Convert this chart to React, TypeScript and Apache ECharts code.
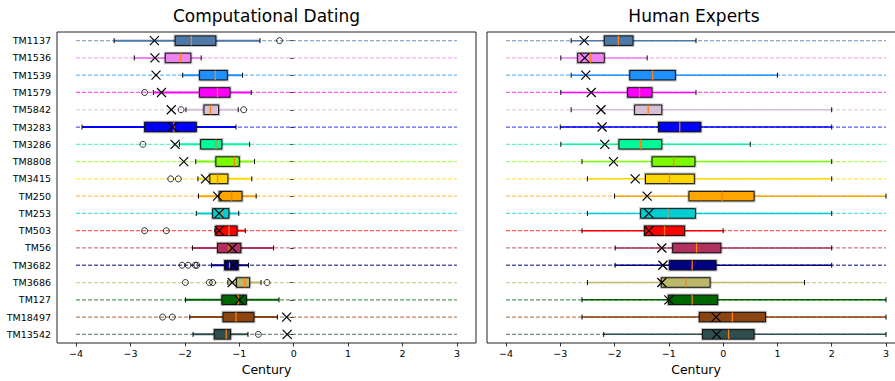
import React, { useEffect, useRef } from "react";
import * as echarts from "echarts";

const categories = ["TM1137","TM1536","TM1539","TM1579","TM5842","TM3283","TM3286","TM8808","TM3415","TM250","TM253","TM503","TM56","TM3682","TM3686","TM127","TM18497","TM13542"];

const categoryColors = ["#4e79a7","#ee82ee","#1e90ff","#ff00ff","#d8bfd8","#0000ff","#00fa9a","#7cfc00","#ffd700","#ffa500","#00ced1","#ff0000","#b03060","#000080","#bdb76b","#006400","#8b4513","#2f4f4f"];

const tickValues = [-4, -3, -2, -1, 0, 1, 2, 3];
const refLineStart = -4;
const refLineEnd = 3;

const trueDates = [-2.56,-2.55,-2.53,-2.43,-2.25,-2.23,-2.18,-2.02,-1.62,-1.40,-1.37,-1.37,-1.13,-1.11,-1.13,-1.0,-0.13,-0.12];

// Computational Dating
const compLow = [-3.30,-2.93,-2.04,-2.58,-1.98,-3.89,-2.10,-1.80,-1.76,-1.75,-1.79,-1.45,-1.86,-1.51,-1.21,-1.99,-1.91,-1.85];
const compQ1 = [-2.18,-2.36,-1.73,-1.73,-1.65,-2.74,-1.71,-1.43,-1.54,-1.37,-1.49,-1.43,-1.40,-1.27,-1.05,-1.32,-1.30,-1.46];
const compMed = [-1.88,-2.08,-1.44,-1.40,-1.53,-2.20,-1.43,-1.09,-1.40,-1.14,-1.32,-1.19,-1.19,-1.18,-0.90,-1.02,-1.06,-1.24];
const compQ3 = [-1.43,-1.89,-1.22,-1.17,-1.38,-1.79,-1.32,-1.00,-1.21,-0.95,-1.19,-1.04,-0.97,-1.02,-0.81,-0.87,-0.73,-1.16];
const compHigh = [-0.62,-1.70,-0.94,-0.78,-1.02,-1.06,-0.81,-0.72,-0.77,-0.69,-1.01,-0.89,-0.37,-0.83,-0.60,-0.27,-0.30,-0.84];
const compOutliers = [[-0.26],[],[],[-2.74],[-2.07,-0.92],[],[-2.77],[],[-2.26,-2.12],[],[],[-2.74,-2.34],[],[-2.05,-1.94,-1.81,-1.78],[-1.99,-1.55,-1.49,-0.49],[],[-2.41,-2.23],[-0.65]];

// Human Experts
const expLow = [-2.80,-2.99,-2.80,-2.99,-2.80,-3.00,-2.99,-2.60,-2.50,-2.00,-2.50,-2.60,-1.99,-1.99,-2.50,-2.60,-2.60,-2.20];
const expQ1 = [-2.19,-2.68,-1.72,-1.76,-1.63,-1.19,-1.92,-1.31,-1.43,-0.63,-1.52,-1.45,-0.93,-0.99,-1.14,-1.01,-0.44,-0.38];
const expMed = [-1.93,-2.44,-1.30,-1.54,-1.38,-0.80,-1.52,-0.91,-0.99,-0.02,-1.02,-1.08,-0.49,-0.57,-0.69,-0.57,0.17,0.10];
const expQ3 = [-1.66,-2.19,-0.88,-1.31,-1.13,-0.41,-1.13,-0.52,-0.53,0.57,-0.51,-0.71,-0.04,-0.13,-0.24,-0.10,0.78,0.57];
const expHigh = [-0.50,-1.40,1.0,-0.50,2.0,2.0,0.50,2.0,2.0,3.0,2.0,0.0,2.0,2.0,1.5,3.0,3.0,3.0];

const FONT = "DejaVu Sans";

function buildPanelSeries(p: number, low: number[], q1: number[], med: number[], q3: number[], high: number[], outliers: number[][] | null, whiskerW: number) {
  const series: any[] = [];
  series.push({
    type: "custom",
    xAxisIndex: p,
    yAxisIndex: p,
    z: 1,
    encode: { y: 0, x: [1, 2] },
    data: categories.map((_, i) => [i, refLineStart, refLineEnd]),
    renderItem: (params: any, api: any) => {
      const i = api.value(0);
      const a = api.coord([api.value(1), i]);
      const b = api.coord([api.value(2), i]);
      return {
        type: "line",
        shape: { x1: a[0], y1: a[1], x2: b[0], y2: b[1] },
        style: { stroke: categoryColors[i], lineWidth: 1.3, lineDash: [4, 2], opacity: 0.65 },
      };
    },
  });
  series.push({
    type: "custom",
    xAxisIndex: p,
    yAxisIndex: p,
    z: 2,
    encode: { y: 0, x: [1, 2, 3, 4, 5] },
    data: categories.map((_, i) => [i, low[i], q1[i], med[i], q3[i], high[i]]),
    renderItem: (params: any, api: any) => {
      const i = api.value(0);
      const pl = api.coord([api.value(1), i]);
      const p1 = api.coord([api.value(2), i]);
      const pm = api.coord([api.value(3), i]);
      const p3 = api.coord([api.value(4), i]);
      const ph = api.coord([api.value(5), i]);
      const band = api.size([0, 1])[1];
      const h = band * 0.55;
      const y = pl[1];
      const capH = 2.5;
      const color = categoryColors[i];
      return {
        type: "group",
        children: [
          { type: "line", shape: { x1: pl[0], y1: y, x2: ph[0], y2: y }, style: { stroke: color, lineWidth: whiskerW } },
          { type: "line", shape: { x1: pl[0], y1: y - capH, x2: pl[0], y2: y + capH }, style: { stroke: "#000", lineWidth: 1 } },
          { type: "line", shape: { x1: ph[0], y1: y - capH, x2: ph[0], y2: y + capH }, style: { stroke: "#000", lineWidth: 1 } },
          { type: "rect", shape: { x: p1[0], y: y - h / 2, width: p3[0] - p1[0], height: h }, style: { fill: color, stroke: "rgba(0,0,0,0.25)", lineWidth: 3 } },
          { type: "rect", shape: { x: p1[0], y: y - h / 2, width: p3[0] - p1[0], height: h }, style: { fill: color, stroke: "#111", lineWidth: 1 } },
          { type: "line", shape: { x1: pm[0], y1: y - h / 2, x2: pm[0], y2: y + h / 2 }, style: { stroke: "#ff7f0e", lineWidth: 1.3 } },
        ],
      };
    },
  });
  if (outliers) {
    const pts: number[][] = [];
    outliers.forEach((arr, i) => arr.forEach((v) => pts.push([v, i])));
    series.push({
      type: "scatter",
      xAxisIndex: p,
      yAxisIndex: p,
      z: 3,
      symbol: "circle",
      symbolSize: 6,
      itemStyle: { color: "rgba(0,0,0,0)", borderColor: "#000", borderWidth: 1 },
      data: pts,
    });
  }
  series.push({
    type: "custom",
    xAxisIndex: p,
    yAxisIndex: p,
    z: 4,
    encode: { y: 0, x: 1 },
    data: categories.map((_, i) => [i, trueDates[i]]),
    renderItem: (params: any, api: any) => {
      const i = api.value(0);
      const c = api.coord([api.value(1), i]);
      const s = 4.5;
      return {
        type: "group",
        children: [
          { type: "line", shape: { x1: c[0] - s, y1: c[1] - s, x2: c[0] + s, y2: c[1] + s }, style: { stroke: "#000", lineWidth: 1.2 } },
          { type: "line", shape: { x1: c[0] - s, y1: c[1] + s, x2: c[0] + s, y2: c[1] - s }, style: { stroke: "#000", lineWidth: 1.2 } },
        ],
      };
    },
  });
  return series;
}

function xAxisFor(gridIndex: number) {
  return {
    type: "value",
    gridIndex,
    min: -4.35,
    max: 3.35,
    name: "Century",
    nameLocation: "middle",
    nameGap: 18,
    nameTextStyle: { fontFamily: FONT, fontSize: 12.5, color: "#000" },
    axisLine: { show: false, onZero: false },
    axisTick: { show: true, customValues: tickValues, length: 3.5, lineStyle: { color: "#000", width: 0.8 } },
    axisLabel: {
      customValues: tickValues,
      fontFamily: FONT,
      fontSize: 9.5,
      color: "#000",
      margin: 5,
      formatter: (v: number) => String(v).replace("-", "\u2212"),
    },
    splitLine: { show: false },
  };
}

function yAxisFor(gridIndex: number, showLabels: boolean) {
  return {
    type: "category",
    gridIndex,
    inverse: true,
    data: categories,
    boundaryGap: true,
    axisLine: { show: false },
    axisTick: { show: showLabels, alignWithLabel: true, length: 3.5, lineStyle: { color: "#000", width: 0.8 } },
    axisLabel: { show: showLabels, fontFamily: FONT, fontSize: 9.5, color: "#000", margin: 6, interval: 0 },
    splitLine: { show: false },
  };
}

export default function App() {
  const ref = useRef<HTMLDivElement>(null);
  useEffect(() => {
    if (!ref.current) return;
    const chart = echarts.init(ref.current, undefined, { renderer: "svg" });
    const option: any = {
      animation: false,
      backgroundColor: "#fff",
      textStyle: { fontFamily: FONT },
      grid: [
        { left: 57, top: 32, width: 419, bottom: 38, show: true, borderColor: "#222", borderWidth: 1, backgroundColor: "transparent" },
        { left: 487, top: 32, width: 418, bottom: 38, show: true, borderColor: "#222", borderWidth: 1, backgroundColor: "transparent" },
      ],
      xAxis: [xAxisFor(0), xAxisFor(1)],
      yAxis: [yAxisFor(0, true), yAxisFor(1, false)],
      graphic: [
        { type: "text", x: 266.5, y: 16, style: { text: "Computational Dating", font: `17px '${FONT}'`, fill: "#000", textAlign: "center", textVerticalAlign: "middle" } },
        { type: "text", x: 694, y: 16, style: { text: "Human Experts", font: `17px '${FONT}'`, fill: "#000", textAlign: "center", textVerticalAlign: "middle" } },
      ],
      series: [
        ...buildPanelSeries(0, compLow, compQ1, compMed, compQ3, compHigh, compOutliers, 2),
        ...buildPanelSeries(1, expLow, expQ1, expMed, expQ3, expHigh, null, 1.5),
      ],
    };
    chart.setOption(option);
    return () => chart.dispose();
  }, []);
  return (
    <div style={{ position: "fixed", left: 0, top: 0, width: 895, height: 381, overflow: "hidden", background: "#fff" }}>
      <div ref={ref} style={{ width: 920, height: 381 }} />
    </div>
  );
}
